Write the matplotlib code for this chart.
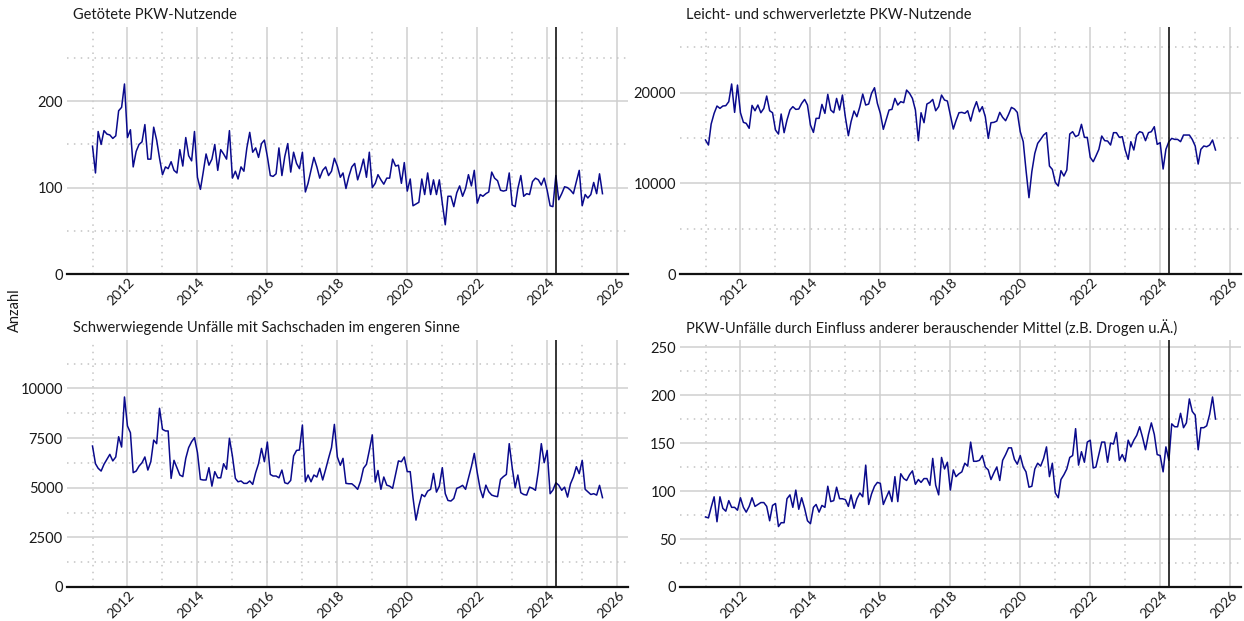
import numpy as np
import pandas as pd
import matplotlib
matplotlib.use("Agg")
import matplotlib.pyplot as plt
import matplotlib.dates as mdates
import matplotlib.transforms as mtransforms
from matplotlib.ticker import FixedLocator

plt.rcParams['font.family'] = ['Lato', 'DejaVu Sans']

months = pd.date_range("2011-01-01", "2025-08-01", freq="MS")
cutoff = pd.Timestamp("2024-04-01")

titles = [
    "Getötete PKW-Nutzende",
    "Leicht- und schwerverletzte PKW-Nutzende",
    "Schwerwiegende Unfälle mit Sachschaden im engeren Sinne",
    "PKW-Unfälle durch Einfluss anderer berauschender Mittel (z.B. Drogen u.Ä.)",
]

getoetete = [
    148, 117, 165, 150, 166, 162, 161, 157, 160, 189, 193, 220,
    158, 167, 124, 142, 150, 153, 173, 133, 133, 170, 155, 134,
    115, 124, 122, 130, 120, 117, 144, 125, 158, 137, 131, 165,
    112, 98, 117, 139, 126, 133, 150, 120, 144, 139, 133, 166,
    111, 119, 110, 124, 119, 146, 164, 141, 146, 135, 151, 155,
    136, 114, 113, 116, 146, 114, 136, 151, 118, 141, 128, 122,
    141, 95, 105, 120, 135, 124, 111, 120, 124, 114, 119, 134,
    125, 112, 117, 99, 113, 124, 128, 109, 120, 133, 112, 141,
    100, 105, 115, 109, 104, 111, 111, 133, 125, 126, 105, 129,
    96, 110, 79, 81, 83, 110, 92, 117, 92, 109, 92, 109,
    82, 57, 90, 90, 78, 94, 102, 90, 99, 115, 102, 120,
    82, 92, 90, 93, 95, 118, 111, 108, 97, 96, 97, 117,
    80, 78, 99, 114, 90, 93, 92, 107, 111, 109, 103, 111,
    97, 79, 78, 114, 86, 93, 101, 100, 97, 93, 107, 120,
    79, 92, 88, 92, 106, 93, 116, 93,
]

verletzte = [
    14780, 14230, 16540, 17720, 18530, 18270, 18530, 18570, 19010, 20960, 17830, 20840,
    17790, 16730, 16620, 16070, 18600, 18010, 18640, 17790, 18270, 19630, 18010, 17790,
    15880, 15440, 17650, 15590, 16980, 18090, 18460, 18160, 18200, 18820, 19260, 18640,
    16430, 15620, 17170, 17170, 18710, 17720, 19820, 18090, 17790, 19370, 18090, 19740,
    17280, 15260, 16800, 17980, 17350, 18460, 19850, 18640, 18750, 19930, 20550, 18820,
    17720, 15960, 16980, 18090, 18160, 19370, 18640, 19010, 18900, 20290, 19930, 19370,
    18090, 14710, 17790, 16690, 18750, 18930, 19260, 18010, 18460, 19740, 19190, 19080,
    17540, 15990, 16910, 17790, 17830, 17720, 18010, 16870, 18160, 19010, 17900, 18460,
    17350, 14960, 16690, 16730, 16870, 17830, 17280, 16910, 17610, 18380, 18200, 17830,
    15700, 14600, 11470, 8420, 11290, 13310, 14410, 14850, 15330, 15590, 11910, 11540,
    10110, 9710, 11400, 10810, 11470, 15440, 15700, 15150, 15330, 16510, 15070, 15070,
    12870, 12390, 13010, 13750, 15220, 14710, 14670, 14230, 15590, 15590, 15070, 15150,
    13680, 12650, 14600, 13680, 15330, 15700, 15590, 14710, 15590, 15700, 16250, 14300,
    14490, 11580, 13750, 14600, 14960, 14850, 14850, 14600, 15330, 15330, 15330, 14850,
    14120, 12130, 13750, 14120, 14040, 14230, 14780, 13680,
]

sachschaden = [
    7100, 6210, 5980, 5840, 6180, 6430, 6680, 6350, 6550, 7570, 7050, 9570,
    8110, 7770, 5760, 5840, 6090, 6260, 6550, 5890, 6310, 7400, 7220, 9000,
    7940, 7860, 7860, 5470, 6380, 6010, 5640, 5560, 6480, 7020, 7320, 7520,
    6770, 5420, 5390, 5390, 6010, 5080, 5810, 5500, 5500, 6210, 5930, 7490,
    6600, 5470, 5300, 5340, 5220, 5220, 5340, 5170, 5760, 6210, 6980, 6310,
    7300, 5670, 5590, 5590, 5500, 5890, 5250, 5200, 5370, 6600, 6880, 6900,
    8160, 5300, 5640, 5300, 5640, 5540, 5980, 5390, 5930, 6480, 7020, 8190,
    6550, 6130, 6480, 5220, 5200, 5200, 5080, 4920, 5340, 5980, 6180, 6880,
    7660, 5290, 5870, 4920, 5540, 5130, 5080, 4970, 5670, 6350, 6310, 6550,
    5810, 5810, 4500, 3370, 4080, 4660, 4550, 4830, 4920, 5720, 4780, 5080,
    6010, 4700, 4360, 4330, 4460, 4970, 5030, 5120, 4920, 5470, 6060, 6730,
    5760, 4920, 4500, 5130, 4800, 4630, 4580, 4550, 5420, 5560, 5670, 7220,
    6010, 5000, 5640, 4750, 4660, 4630, 5030, 4970, 4870, 5840, 7220, 6260,
    6880, 4700, 4880, 5250, 5130, 4870, 5030, 4530, 5200, 5540, 6060, 5710,
    6380, 4920, 4800, 4660, 4700, 4630, 5120, 4500,
]

drogen = [
    73, 72, 83, 94, 68, 94, 82, 79, 90, 83, 83, 80,
    93, 83, 78, 84, 93, 84, 86, 88, 88, 84, 69, 85,
    87, 63, 67, 67, 92, 96, 83, 101, 81, 93, 82, 69,
    66, 83, 86, 78, 85, 83, 105, 89, 90, 104, 92, 92,
    91, 84, 96, 82, 92, 98, 94, 127, 86, 97, 105, 109,
    108, 86, 93, 100, 89, 115, 89, 118, 113, 111, 117, 121,
    107, 112, 109, 113, 113, 106, 134, 106, 96, 135, 123, 130,
    101, 122, 115, 118, 120, 129, 126, 151, 131, 131, 132, 137,
    125, 122, 112, 119, 125, 111, 132, 138, 145, 145, 133, 128,
    137, 125, 120, 104, 105, 123, 129, 126, 134, 146, 115, 129,
    98, 93, 112, 117, 123, 135, 137, 165, 127, 141, 130, 151,
    153, 124, 125, 138, 151, 151, 130, 150, 149, 161, 132, 138,
    131, 153, 146, 153, 158, 167, 156, 143, 159, 171, 159, 138,
    137, 120, 146, 132, 170, 167, 167, 181, 166, 171, 196, 183,
    179, 143, 166, 166, 168, 180, 198, 175,
]

series = [getoetete, verletzte, sachschaden, drogen]
y_major = [
    [0, 100, 200],
    [0, 10000, 20000],
    [0, 2500, 5000, 7500, 10000],
    [0, 50, 100, 150, 200, 250],
]
y_minor = [
    [50, 150, 250],
    [5000, 15000, 25000],
    [1250, 3750, 6250, 8750, 11250],
    [25, 75, 125, 175, 225],
]
even_years = list(range(2012, 2027, 2))
odd_years = list(range(2011, 2026, 2))

W, H = 1244, 621
fig = plt.figure(figsize=(W / 100, H / 100), dpi=100)

# panel boxes in pixels: left, top, right, bottom
boxes = [(67, 27, 628, 274), (680, 27, 1241, 274),
         (67, 340, 628, 587), (680, 340, 1241, 587)]

x0 = mdates.date2num(months[0])
x1 = mdates.date2num(months[-1])
pad = 0.05 * (x1 - x0)

fs = 10.5
txt_col = "#1a1a1a"
label_shift = mtransforms.ScaledTranslation(5 / 100, 0, fig.dpi_scale_trans)

for i, (vals, (l, t, r, b)) in enumerate(zip(series, boxes)):
    ax = fig.add_axes([l / W, 1 - b / H, (r - l) / W, (b - t) / H])
    ax.plot(months, vals, color="#0a0a8c", lw=1.1, zorder=3)
    ax.axvline(cutoff, color="black", lw=1.1, zorder=4)

    ax.set_xlim(x0 - pad, x1 + pad)
    ax.set_ylim(0, max(vals) * 1.3)

    ax.xaxis.set_major_locator(FixedLocator([mdates.date2num(pd.Timestamp(f"{y}-01-01")) for y in even_years]))
    ax.xaxis.set_minor_locator(FixedLocator([mdates.date2num(pd.Timestamp(f"{y}-01-01")) for y in odd_years]))
    ax.set_xticklabels([str(y) for y in even_years])
    ax.yaxis.set_major_locator(FixedLocator(y_major[i]))
    ax.yaxis.set_minor_locator(FixedLocator(y_minor[i]))
    ax.set_yticklabels([str(v) for v in y_major[i]])

    ax.grid(which="major", color="#cfcfcf", lw=1.1, zorder=0)
    ax.grid(which="minor", color="#c4c4c4", lw=1.1, linestyle=(0, (1, 3.5)), zorder=0)

    for s in ["top", "right", "left"]:
        ax.spines[s].set_visible(False)
    ax.spines["bottom"].set_color("#111111")
    ax.spines["bottom"].set_linewidth(1.6)
    ax.spines["bottom"].set_zorder(5)

    ax.tick_params(which="both", length=0)
    ax.tick_params(axis="y", labelsize=fs, pad=3, colors=txt_col)
    ax.tick_params(axis="x", labelsize=10, pad=4.5, colors=txt_col)
    for lab in ax.get_xticklabels():
        lab.set_rotation(45)
        lab.set_ha("right")
        lab.set_va("center")
        lab.set_rotation_mode("anchor")
        lab.set_transform(lab.get_transform() + label_shift)

    fig.text((l + 6) / W, 1 - (t - 12) / H, titles[i], fontsize=fs,
             ha="left", va="center", color=txt_col)

fig.text(15 / W, 1 - 310 / H, "Anzahl", rotation=90, fontsize=fs,
         ha="center", va="center", color=txt_col)

fig.savefig("out.png", dpi=100)
